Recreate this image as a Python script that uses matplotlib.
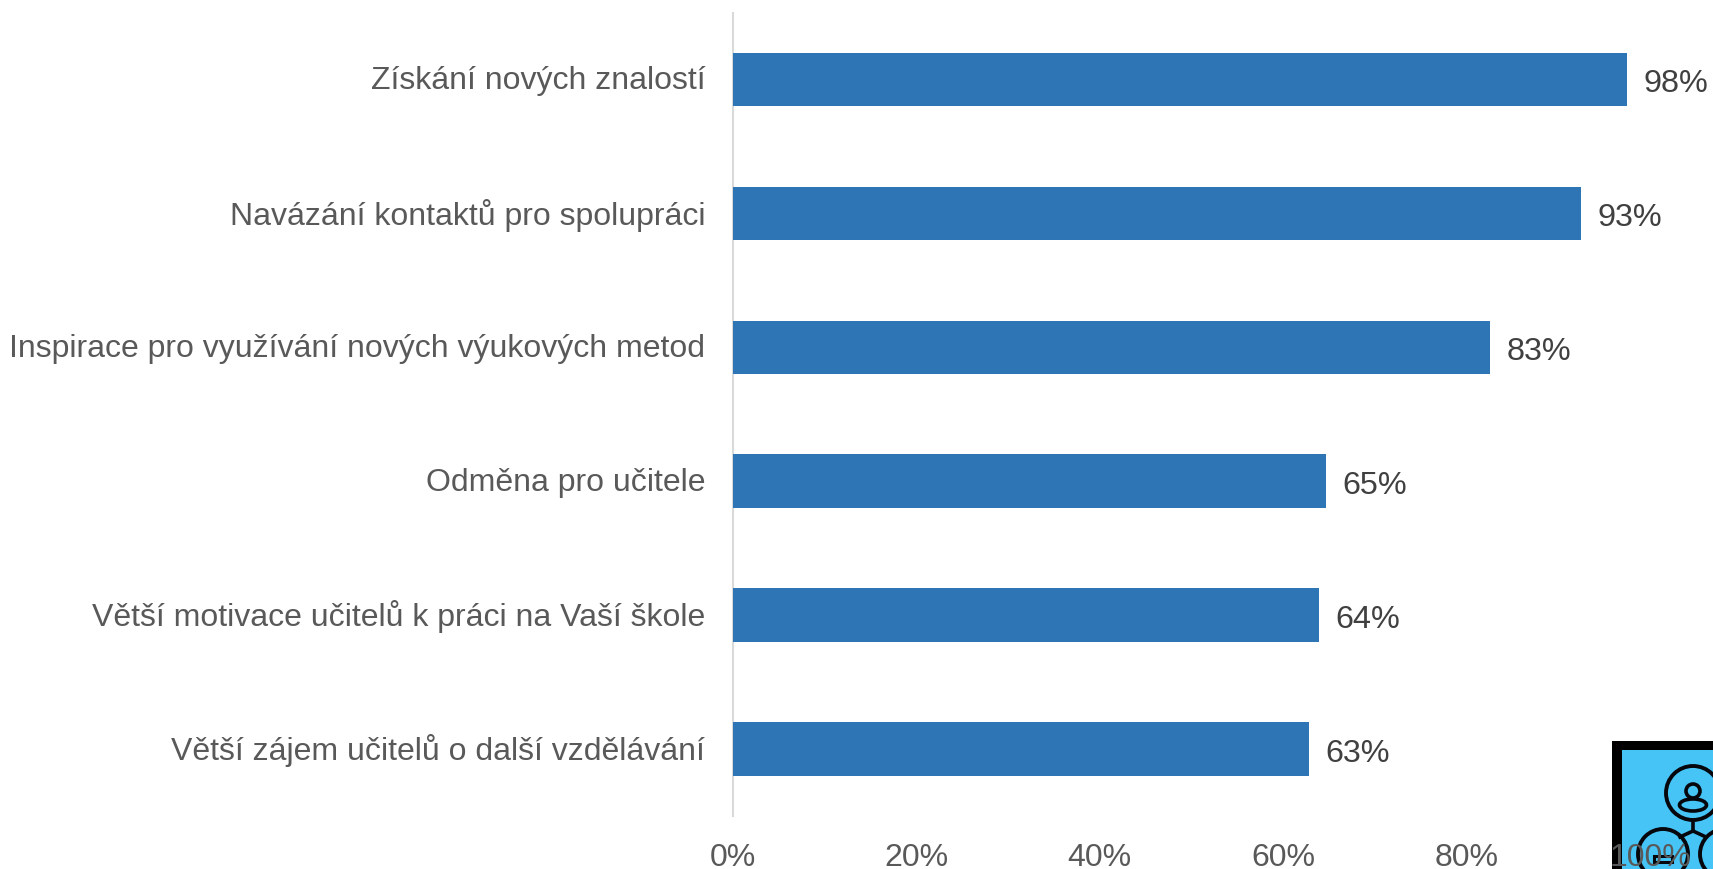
import matplotlib
matplotlib.use("Agg")
import matplotlib.pyplot as plt
from matplotlib.patches import Rectangle, Circle, Ellipse
from matplotlib.lines import Line2D
from matplotlib.transforms import Affine2D, ScaledTranslation

categories = ["Získání nových znalostí", "Navázání kontaktů pro spolupráci",
              "Inspirace pro využívání nových výukových metod", "Odměna pro učitele",
              "Větší motivace učitelů k práci na Vaší škole", "Větší zájem učitelů o další vzdělávání"]
values = [97.5, 92.5, 82.6, 64.7, 63.9, 62.8]
value_labels = ["98%", "93%", "83%", "65%", "64%", "63%"]
xticks = [0, 20, 40, 60, 80, 100]
xticklabels = ["0%", "20%", "40%", "60%", "80%", "100%"]

W, H = 1713, 870
plt.rcParams['font.family'] = ['Liberation Sans', 'DejaVu Sans']
fig = plt.figure(figsize=(W/100, H/100), dpi=100, facecolor="white")
ax = fig.add_axes([732.5/W, 1-817/H, (1650-732.5)/W, (817-13.5)/H])
ax.patch.set_alpha(0)
ax.set_zorder(5)

ypos = list(range(len(categories)))
ax.barh(ypos, values, height=0.4, color="#2E75B6", zorder=3)
ax.set_xlim(0, 100)
ax.set_ylim(5.5, -0.5)
ax.set_yticks(ypos, categories, va="center_baseline")
ax.set_xticks(xticks, xticklabels)
ax.tick_params(axis="y", length=0, pad=19.6, labelsize=23.05, labelcolor="#595959")
ax.tick_params(axis="x", length=0, pad=18.6, labelsize=23, labelcolor="#595959")
shift_up = ScaledTranslation(0, 2.0/72, fig.dpi_scale_trans)
for lab in ax.get_yticklabels():
    lab.set_transform(lab.get_transform() + shift_up)
for lab in ax.get_xticklabels():
    lab.set_clip_on(False)
for s in ["top", "right", "bottom"]:
    ax.spines[s].set_visible(False)
ax.spines["left"].set_color("#D9D9D9")
ax.spines["left"].set_linewidth(1.5)

for y, v, t in zip(ypos, values, value_labels):
    ax.annotate(t, (v, y), xytext=(12, -2.5), textcoords="offset points",
                ha="left", va="center", fontsize=23.3, color="#404040",
                annotation_clip=False)

# logo in the lower right corner, drawn in pixel coordinates from the top-left
px = Affine2D().scale(1, -1).translate(0, H)
ink = "#05070D"
def add(p):
    p.set_transform(px)
    p.set_clip_on(True)
    fig.add_artist(p)
add(Rectangle((1612, 742), 120, 140, facecolor="#45C4F5", edgecolor="none"))
add(Rectangle((1612, 742), 10, 140, facecolor="#000000", edgecolor="none"))
add(Rectangle((1612, 742), 120, 9, facecolor="#000000", edgecolor="none"))
for c, r in [((1693, 794), 27), ((1663, 855), 25), ((1725, 855), 25)]:
    add(Circle(c, r, facecolor="none", edgecolor=ink, linewidth=2.8))
add(Circle((1693, 792), 7, facecolor="none", edgecolor=ink, linewidth=2.6))
add(Ellipse((1693, 806), 27, 12, facecolor="none", edgecolor=ink, linewidth=2.6))
for xs, ys in [((1693, 1693), (821, 832)), ((1693, 1680), (832, 838)), ((1693, 1706), (832, 838))]:
    add(Line2D(xs, ys, color=ink, linewidth=2.6))
add(Rectangle((1654, 857), 18, 6, facecolor="none", edgecolor=ink, linewidth=2.2))

fig.savefig("out.png", dpi=100)
